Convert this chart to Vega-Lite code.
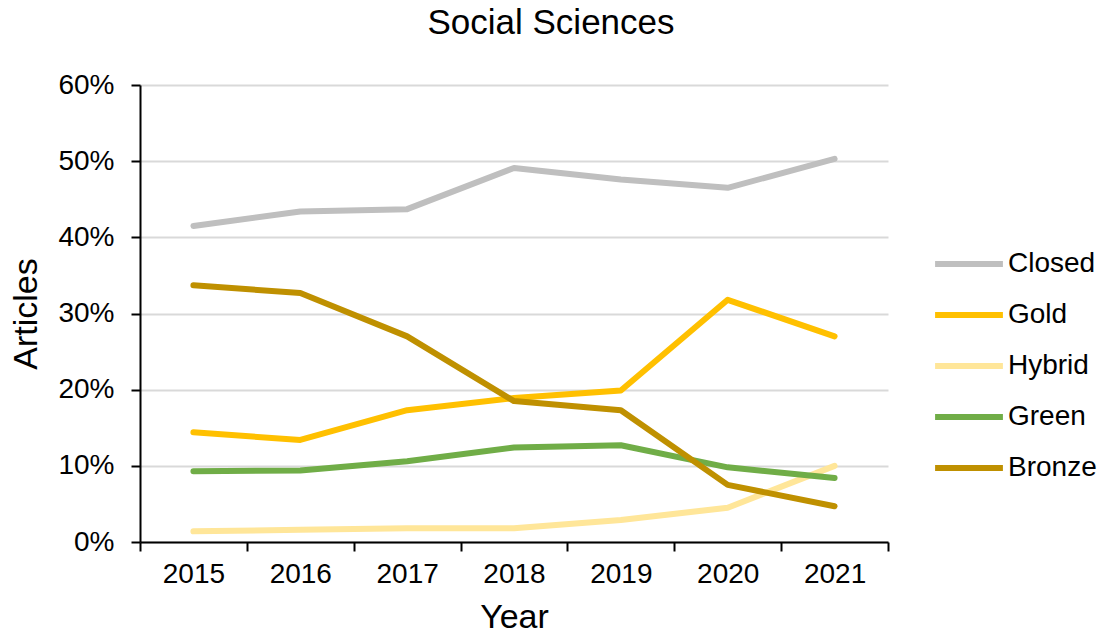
{
  "$schema": "https://vega.github.io/schema/vega-lite/v6.json",
  "autosize": {"type": "none"},
  "padding": {"left": 140, "top": 85, "right": 214, "bottom": 92},
  "width": 748,
  "height": 457,
  "background": "white",
  "title": {"text": "Social Sciences", "font": "Liberation Sans", "fontSize": 35, "fontWeight": "normal", "color": "#000000", "anchor": "middle", "offset": 30, "frame": "group", "dx": 37},
  "config": {
    "view": {"stroke": null},
    "font": "Liberation Sans"
  },
  "data": {"values": [
    {"year": "2015", "type": "Closed", "v": 0.415},
    {"year": "2016", "type": "Closed", "v": 0.434},
    {"year": "2017", "type": "Closed", "v": 0.437},
    {"year": "2018", "type": "Closed", "v": 0.491},
    {"year": "2019", "type": "Closed", "v": 0.476},
    {"year": "2020", "type": "Closed", "v": 0.465},
    {"year": "2021", "type": "Closed", "v": 0.503},
    {"year": "2015", "type": "Gold", "v": 0.144},
    {"year": "2016", "type": "Gold", "v": 0.134},
    {"year": "2017", "type": "Gold", "v": 0.173},
    {"year": "2018", "type": "Gold", "v": 0.189},
    {"year": "2019", "type": "Gold", "v": 0.199},
    {"year": "2020", "type": "Gold", "v": 0.318},
    {"year": "2021", "type": "Gold", "v": 0.270},
    {"year": "2015", "type": "Hybrid", "v": 0.014},
    {"year": "2016", "type": "Hybrid", "v": 0.016},
    {"year": "2017", "type": "Hybrid", "v": 0.018},
    {"year": "2018", "type": "Hybrid", "v": 0.018},
    {"year": "2019", "type": "Hybrid", "v": 0.029},
    {"year": "2020", "type": "Hybrid", "v": 0.045},
    {"year": "2021", "type": "Hybrid", "v": 0.100},
    {"year": "2015", "type": "Green", "v": 0.093},
    {"year": "2016", "type": "Green", "v": 0.094},
    {"year": "2017", "type": "Green", "v": 0.106},
    {"year": "2018", "type": "Green", "v": 0.124},
    {"year": "2019", "type": "Green", "v": 0.127},
    {"year": "2020", "type": "Green", "v": 0.098},
    {"year": "2021", "type": "Green", "v": 0.084},
    {"year": "2015", "type": "Bronze", "v": 0.337},
    {"year": "2016", "type": "Bronze", "v": 0.327},
    {"year": "2017", "type": "Bronze", "v": 0.270},
    {"year": "2018", "type": "Bronze", "v": 0.185},
    {"year": "2019", "type": "Bronze", "v": 0.173},
    {"year": "2020", "type": "Bronze", "v": 0.075},
    {"year": "2021", "type": "Bronze", "v": 0.047}
  ]},
  "mark": {"type": "line", "strokeWidth": 6, "strokeCap": "round", "strokeJoin": "round"},
  "encoding": {
    "x": {
      "field": "year", "type": "ordinal", "bandPosition": 0.5,
      "scale": {"type": "band", "paddingInner": 0, "paddingOuter": 0},
      "axis": {
        "title": "Year", "titleFont": "Liberation Sans", "titleFontSize": 34, "titleFontWeight": "normal", "titleColor": "#000000", "titlePadding": 12,
        "labelAngle": 0, "labelFontSize": 28, "labelColor": "#000000", "labelPadding": 9,
        "tickBand": "extent", "tickSize": 9, "tickColor": "#000000", "tickWidth": 2,
        "domainColor": "#000000", "domainWidth": 2, "grid": false
      }
    },
    "y": {
      "field": "v", "type": "quantitative",
      "scale": {"domain": [0, 0.6], "nice": false},
      "axis": {
        "title": "Articles", "titleFont": "Liberation Sans", "titleFontSize": 34, "titleFontWeight": "normal", "titleColor": "#000000", "titlePadding": 14,
        "format": ".0%", "values": [0, 0.1, 0.2, 0.3, 0.4, 0.5, 0.6],
        "labelFontSize": 28, "labelColor": "#000000", "labelPadding": 17,
        "tickSize": 9, "tickColor": "#000000", "tickWidth": 2,
        "domainColor": "#000000", "domainWidth": 2,
        "grid": true, "gridColor": "#d9d9d9", "gridWidth": 2
      }
    },
    "color": {
      "field": "type", "type": "nominal",
      "scale": {"domain": ["Closed", "Gold", "Hybrid", "Green", "Bronze"], "range": ["#bfbfbf", "#ffc000", "#ffe699", "#70ad47", "#bf9000"]},
      "legend": {
        "title": null, "orient": "none", "legendX": 792, "legendY": 142,
        "symbolType": "stroke", "symbolSize": 4600, "symbolStrokeWidth": 6,
        "labelFontSize": 28, "labelColor": "#000000", "labelOffset": 2,
        "rowPadding": 0
      }
    }
  }
}
